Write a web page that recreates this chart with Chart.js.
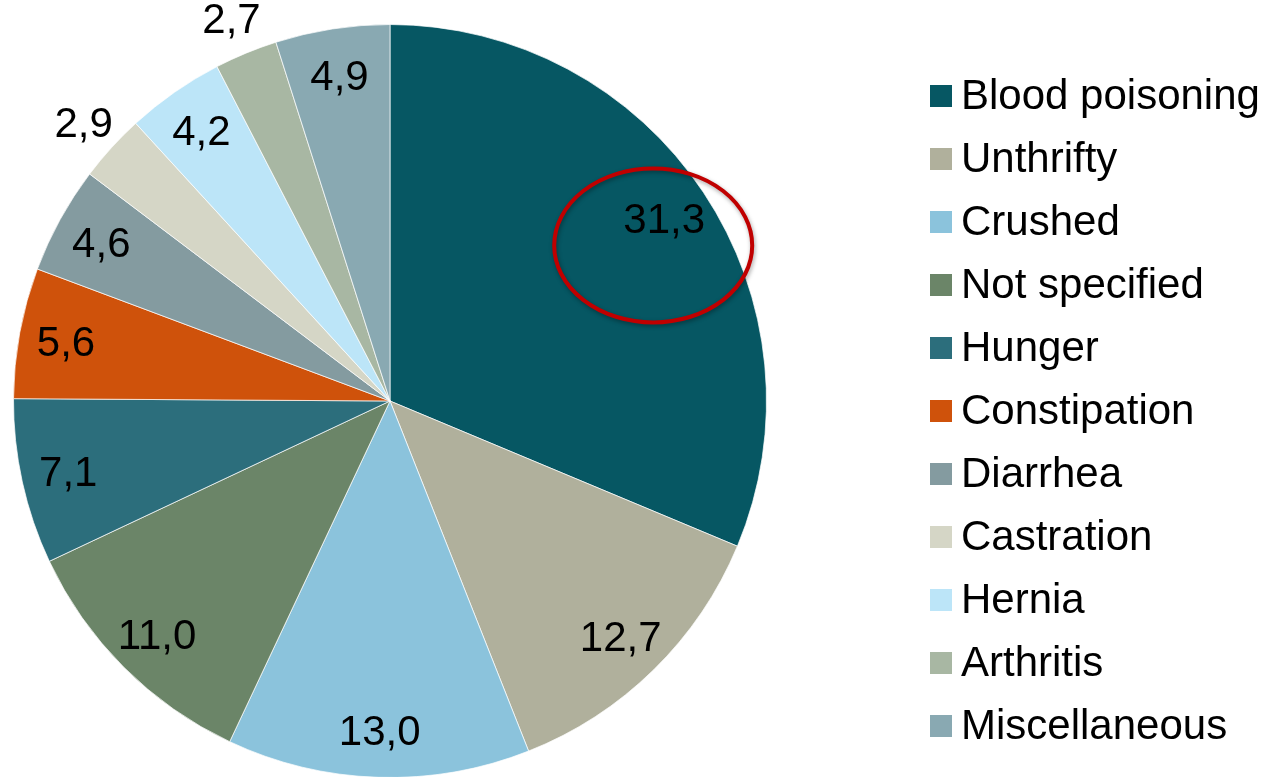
<!DOCTYPE html>
<html>
<head>
<meta charset="utf-8">
<script src="https://cdn.jsdelivr.net/npm/chart.js@4"></script>
<style>
  html, body { margin: 0; padding: 0; background: #ffffff; overflow: hidden; }
  #wrap { position: absolute; left: 0; top: 0; width: 1266px; height: 790px; }
</style>
</head>
<body>
<div id="wrap"><canvas id="c" width="1266" height="790"></canvas></div>
<script>
const categories = ["Blood poisoning", "Unthrifty", "Crushed", "Not specified", "Hunger", "Constipation", "Diarrhea", "Castration", "Hernia", "Arthritis", "Miscellaneous"];
const values = [31.3, 12.7, 13.0, 11.0, 7.1, 5.6, 4.6, 2.9, 4.2, 2.7, 4.9];
const colors = ["#065763", "#b0b09c", "#8bc3dc", "#6b8568", "#2c6e7c", "#cf520b", "#849ba0", "#d5d6c6", "#bce5f8", "#a8b7a3", "#89a9b2"];
const highlightIndex = 0;

const FONT = '42px "Liberation Sans", Arial, sans-serif';
const fmt = v => v.toFixed(1).replace('.', ',');

const sliceLabels = {
  id: 'sliceLabels',
  afterDatasetsDraw(chart) {
    const ctx = chart.ctx;
    const meta = chart.getDatasetMeta(0);
    const ds = chart.data.datasets[0].data;
    ctx.save();
    ctx.font = FONT;
    ctx.fillStyle = '#000';
    ctx.textAlign = 'center';
    ctx.textBaseline = 'middle';
    meta.data.forEach((arc, i) => {
      const p = arc.getProps(['x', 'y', 'startAngle', 'endAngle', 'outerRadius'], true);
      const mid = (p.startAngle + p.endAngle) / 2;
      const f = ds[i] < 3 ? 1.1 : 0.875;
      const lx = p.x + Math.cos(mid) * p.outerRadius * f;
      const ly = p.y + Math.sin(mid) * p.outerRadius * f;
      ctx.fillText(fmt(ds[i]), lx, ly + 3);
      if (i === highlightIndex) {
        ctx.save();
        ctx.shadowColor = 'rgba(0,0,0,0.35)';
        ctx.shadowBlur = 4;
        ctx.shadowOffsetX = 1;
        ctx.shadowOffsetY = 2;
        ctx.strokeStyle = '#c00000';
        ctx.lineWidth = 4;
        ctx.beginPath();
        ctx.ellipse(lx - 11, ly + 27, 99, 77, 0, 0, Math.PI * 2);
        ctx.stroke();
        ctx.restore();
      }
    });
    ctx.restore();
  }
};

const sideLegend = {
  id: 'sideLegend',
  afterDraw(chart) {
    const ctx = chart.ctx;
    const labels = chart.data.labels;
    const bg = chart.data.datasets[0].backgroundColor;
    ctx.save();
    ctx.font = FONT;
    ctx.textAlign = 'left';
    ctx.textBaseline = 'alphabetic';
    labels.forEach((lab, i) => {
      const base = 109 + i * 63;
      ctx.fillStyle = bg[i];
      ctx.fillRect(930, base - 24, 22, 22);
      ctx.fillStyle = '#000';
      ctx.fillText(lab, 961, base);
    });
    ctx.restore();
  }
};

new Chart(document.getElementById('c'), {
  type: 'pie',
  data: {
    labels: categories,
    datasets: [{
      data: values,
      backgroundColor: colors,
      borderColor: 'rgba(255,255,255,0.7)',
      borderWidth: 1
    }]
  },
  options: {
    responsive: false,
    animation: false,
    layout: { padding: { left: 13, top: 24, right: 499, bottom: 12 } },
    plugins: {
      legend: { display: false },
      tooltip: { enabled: false }
    }
  },
  plugins: [sliceLabels, sideLegend]
});
</script>
</body>
</html>
